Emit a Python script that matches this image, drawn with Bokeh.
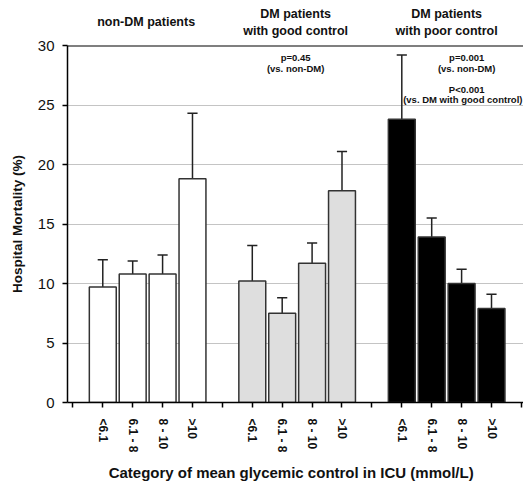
import math
from bokeh.plotting import figure
from bokeh.layouts import column
from bokeh.models import Range1d, FixedTicker, Span, Label
from bokeh.core.properties import value
from bokeh.embed import file_html
from bokeh.resources import INLINE

# ---- data ----
group_line1 = ["", "DM patients", "DM patients"]
group_line2 = ["non-DM patients", "with good control", "with poor control"]
categories = ["<6.1", "6.1 - 8", "8 - 10", ">10"]
non_dm = [9.7, 10.8, 10.8, 18.8]
non_dm_upper = [12.0, 11.9, 12.4, 24.3]
good = [10.2, 7.5, 11.7, 17.8]
good_upper = [13.2, 8.8, 13.4, 21.1]
poor = [23.8, 13.9, 10.0, 7.9]
poor_upper = [29.2, 15.5, 11.2, 9.1]
y_ticks = [0, 5, 10, 15, 20, 25, 30]
p_notes = [["p=0.45", "(vs. non-DM)"],
           ["p=0.001", "(vs. non-DM)", "P<0.001", "(vs. DM with good control)"]]
x_title = "Category of mean glycemic control in ICU (mmol/L)"
y_title = "Hospital Mortality (%)"

FONT = "Liberation Sans"
TXT = "#111111"
fills = ["#ffffff", "#dedede", "#000000"]
series = [(non_dm, non_dm_upper), (good, good_upper), (poor, poor_upper)]

W = 523
xr = Range1d(-0.18, 15.07)
LEFT = 67


def bare(height, yr):
    f = figure(width=W, height=height, output_backend="svg", toolbar_location=None,
               x_range=xr, y_range=yr, x_axis_location=None, y_axis_location=None,
               min_border_left=LEFT, min_border_right=0, min_border_top=0, min_border_bottom=0)
    f.outline_line_color = None
    f.grid.grid_line_color = None
    return f


# ---- top strip: group titles (y in pixels from strip bottom) ----
top = bare(38, Range1d(0, 38))
gx = [2.45, 7.45, 12.5]
top.text(x=[gx[1], gx[2]], y=[24.7, 24.7], text=group_line1[1:], text_font=value(FONT),
         text_font_style="bold", text_font_size="12.5px", text_color=TXT,
         text_align="center", text_baseline="middle")
top.text(x=gx, y=[16.3, 7.6, 7.6], text=group_line2, text_font=value(FONT),
         text_font_style="bold", text_font_size="12.5px", text_color=TXT,
         text_align="center", text_baseline="middle")

# ---- main plot ----
p = figure(width=W, height=372, output_backend="svg", toolbar_location=None,
           x_range=xr, y_range=Range1d(0, 30),
           min_border_left=LEFT, min_border_right=0, min_border_top=7, min_border_bottom=8)
p.outline_line_color = None
p.xgrid.grid_line_color = None
p.ygrid.grid_line_color = "#c4c4c4"
p.ygrid.grid_line_width = 1
p.ygrid.ticker = FixedTicker(ticks=y_ticks[1:-1])

for g, (vals, upper) in enumerate(series):
    xs = [1 + 5 * g + i for i in range(len(vals))]
    p.segment(x0=xs, y0=vals, x1=xs, y1=upper, line_color="#222222", line_width=1.5)
    p.segment(x0=[x - 0.17 for x in xs], y0=upper, x1=[x + 0.17 for x in xs], y1=upper,
              line_color="#222222", line_width=1.5)
    p.vbar(x=xs, top=vals, bottom=0, width=0.9, fill_color=fills[g],
           line_color="#333333", line_width=1.5)

p.add_layout(Span(location=30, dimension="width", line_color="black", line_width=2))

p.xaxis.ticker = FixedTicker(ticks=list(range(0, 16)))
p.xaxis.major_label_text_font_size = "1px"
p.xaxis.major_label_text_alpha = 0
p.xaxis.major_label_standoff = 0

p.yaxis.ticker = FixedTicker(ticks=y_ticks)
p.yaxis.major_label_text_font = FONT
p.yaxis.major_label_text_font_size = "15px"
p.yaxis.major_label_text_color = TXT
p.yaxis.major_label_standoff = 8
p.yaxis.axis_label = y_title
p.yaxis.axis_label_text_font = FONT
p.yaxis.axis_label_text_font_style = "bold"
p.yaxis.axis_label_text_font_size = "13.5px"
p.yaxis.axis_label_text_color = TXT
p.yaxis.axis_label_standoff = 10

for ax in (p.xaxis, p.yaxis):
    ax.axis_line_color = "black"
    ax.axis_line_width = 1.5
    ax.major_tick_line_color = "black"
    ax.major_tick_line_width = 1.5
    ax.major_tick_out = 5
    ax.major_tick_in = 0
    ax.minor_tick_line_color = None


def note(x, y, text):
    p.add_layout(Label(x=x, y=y, text=text, text_font=FONT, text_font_style="bold",
                       text_font_size="9.5px", text_color=TXT,
                       text_align="center", text_baseline="middle"))


note(7.45, 28.99, p_notes[0][0])
note(7.45, 28.06, p_notes[0][1])
note(13.17, 28.99, p_notes[1][0])
note(13.17, 28.06, p_notes[1][1])
note(13.17, 26.32, p_notes[1][2])
note(13.04, 25.43, p_notes[1][3])

# ---- bottom strip: category labels and axis title (y in pixels from strip bottom) ----
bot = bare(71, Range1d(0, 71))
cx, ct = [], []
for g in range(3):
    for i, c in enumerate(categories):
        cx.append(1 + 5 * g + i)
        ct.append(c)
bot.text(x=cx, y=[63] * len(cx), text=ct, angle=-math.pi / 2, text_font=value(FONT),
         text_font_style="bold", text_font_size="12px", text_color=TXT,
         text_align="left", text_baseline="middle")
bot.text(x=[7.3], y=[9], text=[x_title], text_font=value(FONT), text_font_style="bold",
         text_font_size="15px", text_color=TXT, text_align="center", text_baseline="middle")

layout = column(top, p, bot, spacing=0)
open("out.html", "w").write(file_html(layout, INLINE))
